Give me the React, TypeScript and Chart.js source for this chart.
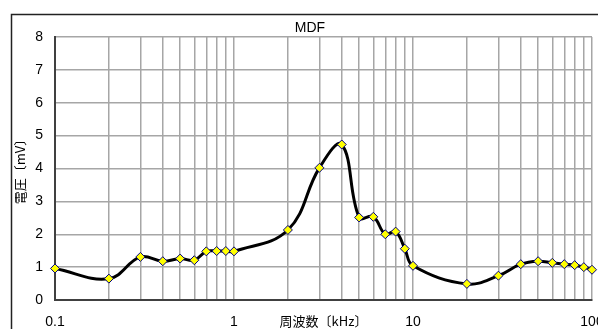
import React, { useEffect, useRef } from 'react';
import { Chart, registerables } from 'chart.js';

Chart.register(...registerables);

// ---- data ----
const frequencies = [0.1, 0.2, 0.3, 0.4, 0.5, 0.6, 0.7, 0.8, 0.9, 1, 2, 3, 4, 5, 6, 7, 8, 9, 10, 20, 30, 40, 50, 60, 70, 80, 90, 100];
const voltages = [0.96, 0.65, 1.31, 1.18, 1.26, 1.21, 1.48, 1.49, 1.49, 1.48, 2.13, 4.02, 4.73, 2.51, 2.53, 2.0, 2.08, 1.56, 1.04, 0.49, 0.74, 1.09, 1.18, 1.13, 1.09, 1.06, 1.0, 0.92];
const xGridValues = [0.1, 0.2, 0.3, 0.4, 0.5, 0.6, 0.7, 0.8, 0.9, 1, 2, 3, 4, 5, 6, 7, 8, 9, 10, 20, 30, 40, 50, 60, 70, 80, 90, 100];
const xLabelValues = [0.1, 1, 10, 100];
const yMin = 0;
const yMax = 8;
const yStep = 1;
const chartTitle = 'MDF';
const xTitle = '周波数〔kHz〕';
const yTitle = '電圧〔mV〕';

// ---- layout / style ----
const W = 598;
const H = 329;
const AREA = { left: 55, top: 37, right: 592, bottom: 300 };
const LATIN = "'Liberation Sans Narrow', 'Liberation Sans', Arial, sans-serif";
const CJK = "'Noto Sans CJK JP', 'Noto Sans', sans-serif";
const GRID = '#a6a6a6';
const AXIS = '#404040';

export default function App() {
  const ref = useRef<HTMLCanvasElement>(null);

  useEffect(() => {
    if (!ref.current) return;
    const framePlugin = {
      id: 'framePlugin',
      beforeDraw(chart: any) {
        const ctx = chart.ctx;
        ctx.save();
        ctx.strokeStyle = '#222';
        ctx.lineWidth = 1.5;
        ctx.beginPath();
        ctx.moveTo(11.5, H + 5);
        ctx.lineTo(11.5, 14.5);
        ctx.lineTo(W + 5, 14.5);
        ctx.stroke();
        ctx.restore();
      },
      afterDraw(chart: any) {
        const ctx = chart.ctx;
        ctx.save();
        ctx.fillStyle = '#000';
        ctx.font = `14px ${LATIN}`;
        ctx.textAlign = 'center';
        ctx.textBaseline = 'middle';
        ctx.fillText(chartTitle, 310, 28);
        ctx.restore();
      },
    };

    const chart = new Chart(ref.current, {
      type: 'line',
      data: {
        datasets: [
          {
            data: frequencies.map((f, i) => ({ x: f, y: voltages[i] })),
            borderColor: '#000',
            borderWidth: 3,
            tension: 0.4,
            pointStyle: 'rectRot',
            pointRadius: 4.5,
            pointBackgroundColor: '#ffff00',
            pointBorderColor: '#000080',
            pointBorderWidth: 1,
            clip: false as any,
          },
        ],
      },
      options: {
        responsive: false,
        animation: false,
        layout: { padding: { left: 0, top: AREA.top, right: W - AREA.right, bottom: 0 } },
        plugins: {
          legend: { display: false },
          tooltip: { enabled: false },
          title: { display: false },
        },
        scales: {
          x: {
            type: 'logarithmic',
            min: 0.1,
            max: 100,
            afterBuildTicks(scale: any) {
              scale.ticks = xGridValues.map((v) => ({ value: v }));
            },
            afterFit(scale: any) {
              scale.height = H - AREA.bottom;
              scale.paddingLeft = 0;
              scale.paddingRight = 0;
            },
            ticks: {
              autoSkip: false,
              maxRotation: 0,
              minRotation: 0,
              padding: 14,
              color: '#000',
              font: { family: LATIN, size: 14 },
              callback: (value: any) => (xLabelValues.includes(Number(value)) ? String(value) : ''),
            },
            grid: { color: GRID, lineWidth: 1.5, drawTicks: false },
            border: { color: AXIS, width: 2 },
            title: {
              display: true,
              text: xTitle,
              color: '#000',
              font: { family: CJK, size: 13 },
              padding: 0,
            },
          },
          y: {
            min: yMin,
            max: yMax,
            afterFit(scale: any) {
              scale.width = AREA.left;
              scale.paddingTop = 0;
              scale.paddingBottom = 0;
            },
            ticks: {
              stepSize: yStep,
              padding: 12,
              color: '#000',
              font: { family: LATIN, size: 14 },
            },
            grid: { color: GRID, lineWidth: 1.5, drawTicks: false },
            border: { color: AXIS, width: 2 },
            title: {
              display: true,
              text: yTitle,
              color: '#000',
              font: { family: CJK, size: 13 },
              padding: { top: 12, bottom: 0 },
            },
          },
        },
      },
      plugins: [framePlugin],
    });
    return () => chart.destroy();
  }, []);

  return (
    <canvas
      ref={ref}
      width={W}
      height={H}
      style={{ position: 'fixed', left: 0, top: 0, width: W, height: H }}
    />
  );
}
